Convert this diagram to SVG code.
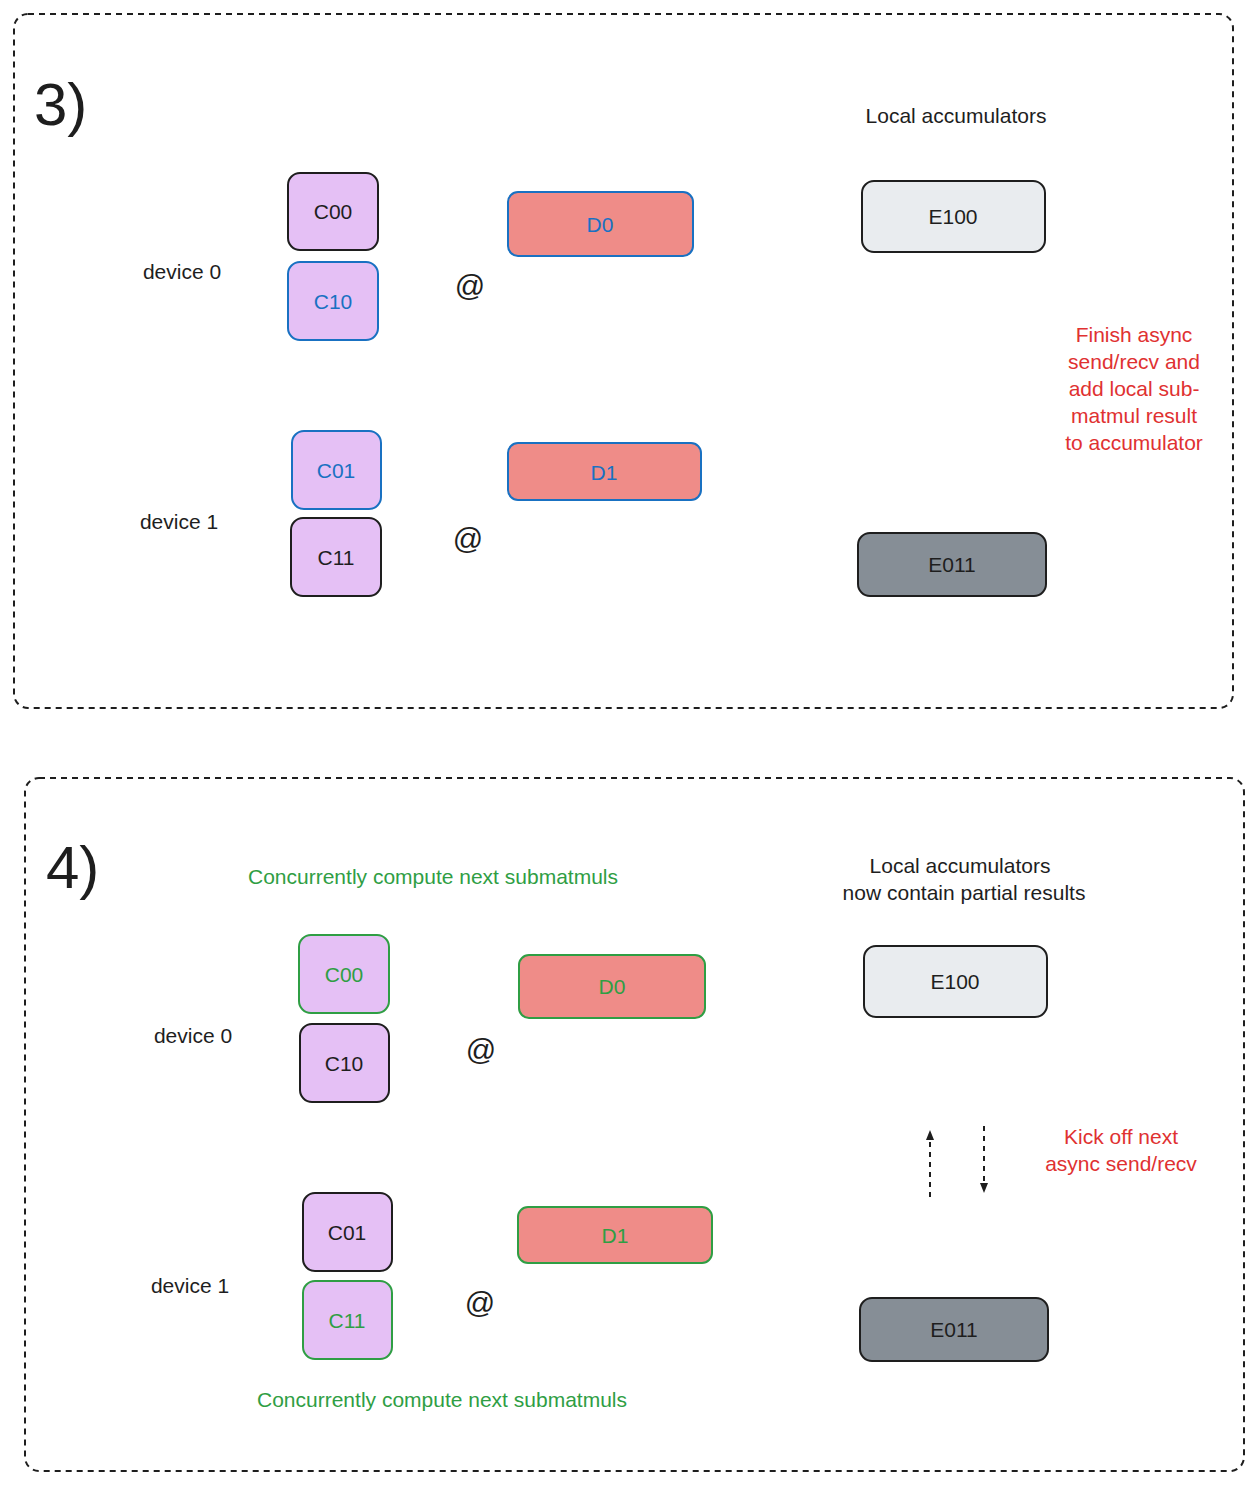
<svg xmlns="http://www.w3.org/2000/svg" width="1250" height="1486" viewBox="0 0 1250 1486">
<style>
text{font-family:"Liberation Sans",Arial,sans-serif;font-size:21px;fill:#1e1e1e}
.c{text-anchor:middle;dominant-baseline:central}
.panel{fill:none;stroke:#1e1e1e;stroke-width:2;stroke-dasharray:6 5}
.m{fill:#e5c0f5;stroke:#1e1e1e;stroke-width:2}
.d{fill:#ef8c88;stroke-width:2}
.e1{fill:#e9ecef;stroke:#1e1e1e;stroke-width:2}
.e2{fill:#868e96;stroke:#1e1e1e;stroke-width:2}
.blue{stroke:#1971c2}
.green{stroke:#2f9e44}
.tb{fill:#1971c2}
.tg{fill:#2f9e44}
.tr{fill:#e03131}
.big{font-size:60px}
.at{font-size:30px}
.conn{stroke:#1e1e1e;stroke-width:2;stroke-dasharray:5 5;fill:none}
</style>
<defs><marker id="ah" markerWidth="10" markerHeight="10" refX="5" refY="5" orient="auto" markerUnits="userSpaceOnUse"><path d="M0,1 L10,5 L0,9 z" fill="#1e1e1e"/></marker></defs>
<rect class="panel" x="14" y="14" width="1219" height="694" rx="14"/>
<rect class="panel" x="25" y="778" width="1219" height="693" rx="14"/>
<text x="34" y="125" class="big">3)</text>
<text x="46" y="888" class="big">4)</text>
<text x="956" y="115" class="c">Local accumulators</text>
<text x="182" y="271" class="c">device 0</text>
<text x="179" y="521" class="c">device 1</text>
<text x="470" y="285" class="c at">@</text>
<text x="468" y="538" class="c at">@</text>
<text x="1134" y="334" class="c tr">Finish async</text><text x="1134" y="361" class="c tr">send/recv and</text><text x="1134" y="388" class="c tr">add local sub-</text><text x="1134" y="415" class="c tr">matmul result</text><text x="1134" y="442" class="c tr">to accumulator</text>
<g id="p3c00"><rect class="m" x="288" y="173" width="90" height="77" rx="12"/><text x="333" y="211" class="c">C00</text></g>
<g id="p3c10"><rect class="m blue" x="288" y="262" width="90" height="78" rx="12"/><text x="333" y="301" class="c tb">C10</text></g>
<g id="p3d0"><rect class="d blue" x="508" y="192" width="185" height="64" rx="10"/><text x="600" y="224" class="c tb">D0</text></g>
<g id="p3e100"><rect class="e1" x="862" y="181" width="183" height="71" rx="12"/><text x="953" y="216" class="c">E100</text></g>
<g id="p3c01"><rect class="m blue" x="292" y="431" width="89" height="78" rx="12"/><text x="336" y="470" class="c tb">C01</text></g>
<g id="p3c11"><rect class="m" x="291" y="518" width="90" height="78" rx="12"/><text x="336" y="557" class="c">C11</text></g>
<g id="p3d1"><rect class="d blue" x="508" y="443" width="193" height="57" rx="10"/><text x="604" y="472" class="c tb">D1</text></g>
<g id="p3e011"><rect class="e2" x="858" y="533" width="188" height="63" rx="12"/><text x="952" y="564" class="c">E011</text></g>

<text x="433" y="876" class="c tg">Concurrently compute next submatmuls</text>
<text x="442" y="1399" class="c tg">Concurrently compute next submatmuls</text>
<text x="960" y="865" class="c">Local accumulators</text>
<text x="964" y="892" class="c">now contain partial results</text>
<text x="193" y="1035" class="c">device 0</text>
<text x="190" y="1285" class="c">device 1</text>
<text x="481" y="1049" class="c at">@</text>
<text x="480" y="1302" class="c at">@</text>
<text x="1121" y="1136" class="c tr">Kick off next</text>
<text x="1121" y="1163" class="c tr">async send/recv</text>
<g id="p4c00"><rect class="m green" x="299" y="935" width="90" height="78" rx="12"/><text x="344" y="974" class="c tg">C00</text></g>
<g id="p4c10"><rect class="m" x="300" y="1024" width="89" height="78" rx="12"/><text x="344" y="1063" class="c">C10</text></g>
<g id="p4d0"><rect class="d green" x="519" y="955" width="186" height="63" rx="10"/><text x="612" y="986" class="c tg">D0</text></g>
<g id="p4e100"><rect class="e1" x="864" y="946" width="183" height="71" rx="12"/><text x="955" y="981" class="c">E100</text></g>
<g id="p4c01"><rect class="m" x="303" y="1193" width="89" height="78" rx="12"/><text x="347" y="1232" class="c">C01</text></g>
<g id="p4c11"><rect class="m green" x="303" y="1281" width="89" height="78" rx="12"/><text x="347" y="1320" class="c tg">C11</text></g>
<g id="p4d1"><rect class="d green" x="518" y="1207" width="194" height="56" rx="10"/><text x="615" y="1235" class="c tg">D1</text></g>
<g id="p4e011"><rect class="e2" x="860" y="1298" width="188" height="63" rx="12"/><text x="954" y="1329" class="c">E011</text></g>
<g id="connectors">
<path class="conn" d="M930,1197 L930,1135" marker-end="url(#ah)"/>
<path class="conn" d="M984,1126 L984,1188" marker-end="url(#ah)"/>
</g>
</svg>
